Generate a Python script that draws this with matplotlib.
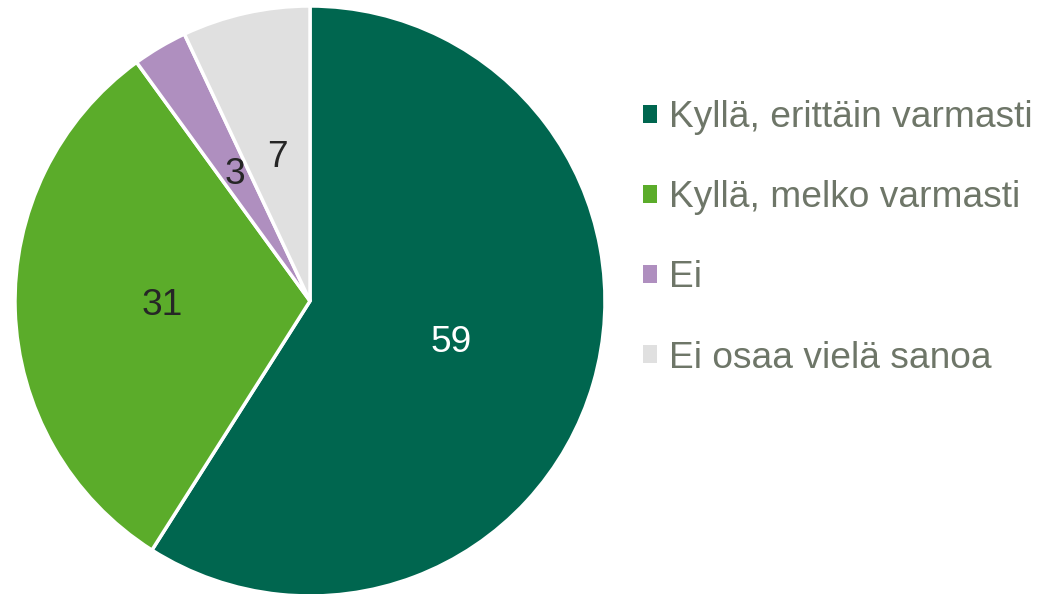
import matplotlib
matplotlib.use("Agg")
import matplotlib.pyplot as plt

plt.rcParams['font.family'] = ['Liberation Sans', 'DejaVu Sans']

labels = ["Kyllä, erittäin varmasti", "Kyllä, melko varmasti", "Ei", "Ei osaa vielä sanoa"]
values = [59, 31, 3, 7]
colors = ["#00664F", "#5BAC2A", "#AF8FBF", "#E0E0E0"]
value_colors = ["white", "#262626", "#262626", "#262626"]

fig = plt.figure(figsize=(10.38, 5.94), dpi=100)
# pie centre ~ (310, 301) px, radius ~295 px
ax = fig.add_axes([(310 - 295) / 1038, (594 - 301 - 295) / 594, 590 / 1038, 590 / 594])

wedges, texts = ax.pie(values, colors=colors, startangle=90, counterclock=False,
                       labels=[str(v) for v in values], labeldistance=0.5,
                       wedgeprops=dict(edgecolor="white", linewidth=2.5),
                       textprops=dict(fontsize=26.7, ha="center", va="center"))
for t, c in zip(texts, value_colors):
    t.set_color(c)
ax.set_xlim(-1, 1)
ax.set_ylim(-1, 1)
ax.set_aspect("equal")

leg = fig.legend(wedges, labels, loc="upper left", bbox_to_anchor=(643 / 1038, (594 - 100) / 594),
                 frameon=False, fontsize=26.7, handlelength=0.37, handleheight=0.37,
                 handletextpad=0.33, labelspacing=1.22, borderpad=0, borderaxespad=0)
for t in leg.get_texts():
    t.set_color("#6E7668")
for h in leg.legend_handles:
    h.set_edgecolor("none")

fig.savefig("out.png", dpi=100)
